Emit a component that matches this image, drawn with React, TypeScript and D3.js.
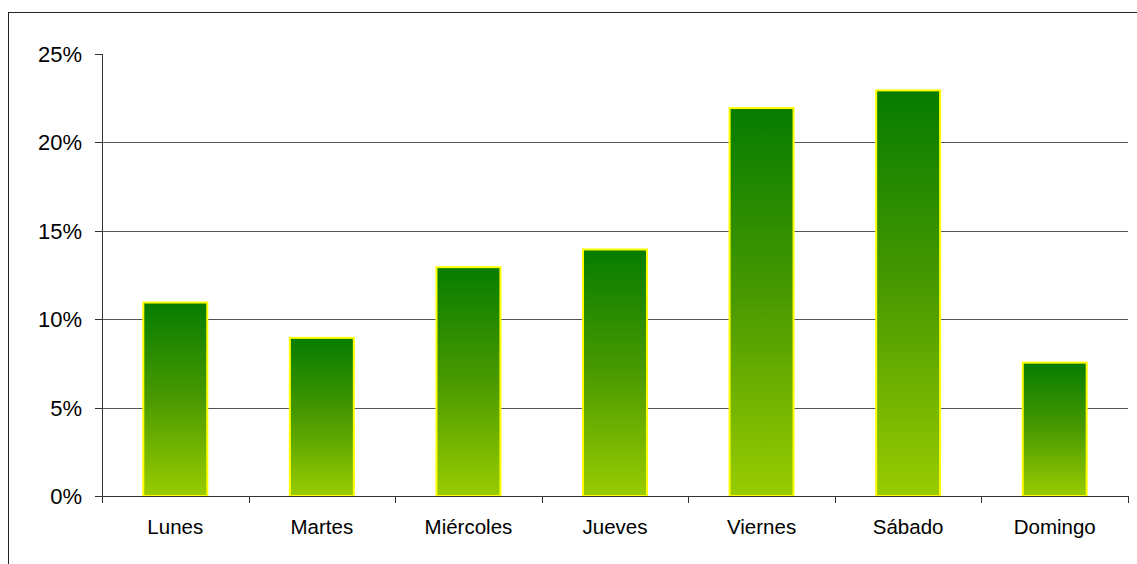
import React from "react";
import * as d3 from "d3";

const categories = ["Lunes", "Martes", "Miércoles", "Jueves", "Viernes", "Sábado", "Domingo"];
const values = [11, 9, 13, 14, 22, 23, 7.6];
const yTicks = [0, 5, 10, 15, 20, 25];

const W = 1137;
const H = 564;
const plot = { left: 102, right: 1128, top: 54, bottom: 496 };

export default function App() {
  const x = d3.scaleBand<string>().domain(categories).range([plot.left, plot.right]).padding(0);
  const y = d3.scaleLinear().domain([0, 25]).range([plot.bottom, plot.top]);
  const step = x.step();
  const barW = step * 0.45;
  const font = "'Liberation Sans', Arial, sans-serif";

  return (
    <svg
      width={W}
      height={H}
      style={{ position: "absolute", left: 0, top: 0, background: "#fff" }}
      fontFamily={font}
    >
      <defs>
        <linearGradient id="barGrad" x1="0" y1="0" x2="0" y2="1">
          <stop offset="0%" stopColor="#067C00" />
          <stop offset="50%" stopColor="#4A9A00" />
          <stop offset="100%" stopColor="#99CC00" />
        </linearGradient>
      </defs>
      <rect x={8.5} y={12.5} width={1140} height={560} fill="#fff" stroke="#222" strokeWidth={1} />

      {/* gridlines */}
      {yTicks
        .filter((t) => t > 0 && t < 25)
        .map((t) => (
          <line
            key={"g" + t}
            x1={plot.left}
            x2={plot.right}
            y1={Math.round(y(t)) + 0.5}
            y2={Math.round(y(t)) + 0.5}
            stroke="#555"
            strokeWidth={1}
          />
        ))}

      {/* bars */}
      {categories.map((c, i) => {
        const cx = (x(c) as number) + step / 2;
        const top = y(values[i]);
        return (
          <rect
            key={c}
            x={cx - barW / 2 + 1}
            y={top + 1}
            width={barW - 2}
            height={plot.bottom - top - 1}
            fill="url(#barGrad)"
            stroke="#FFFF00"
            strokeWidth={2}
          />
        );
      })}

      {/* y axis */}
      <line x1={plot.left + 0.5} x2={plot.left + 0.5} y1={plot.top} y2={plot.bottom} stroke="#333" />
      {yTicks.map((t) => (
        <g key={"t" + t}>
          <line
            x1={plot.left - 7}
            x2={plot.left}
            y1={Math.round(y(t)) + 0.5}
            y2={Math.round(y(t)) + 0.5}
            stroke="#333"
          />
          <text x={82} y={y(t) + 8} textAnchor="end" fontSize={22} fill="#000">
            {t + "%"}
          </text>
        </g>
      ))}

      {/* x axis */}
      <line x1={plot.left} x2={plot.right} y1={plot.bottom + 0.5} y2={plot.bottom + 0.5} stroke="#333" />
      {d3.range(categories.length + 1).map((i) => {
        const xx = Math.round(plot.left + i * step) + 0.5;
        return <line key={"xt" + i} x1={xx} x2={xx} y1={plot.bottom} y2={plot.bottom + 7} stroke="#333" />;
      })}
      {categories.map((c) => (
        <text
          key={"l" + c}
          x={(x(c) as number) + step / 2}
          y={534}
          textAnchor="middle"
          fontSize={20.5}
          fill="#000"
        >
          {c}
        </text>
      ))}
    </svg>
  );
}
